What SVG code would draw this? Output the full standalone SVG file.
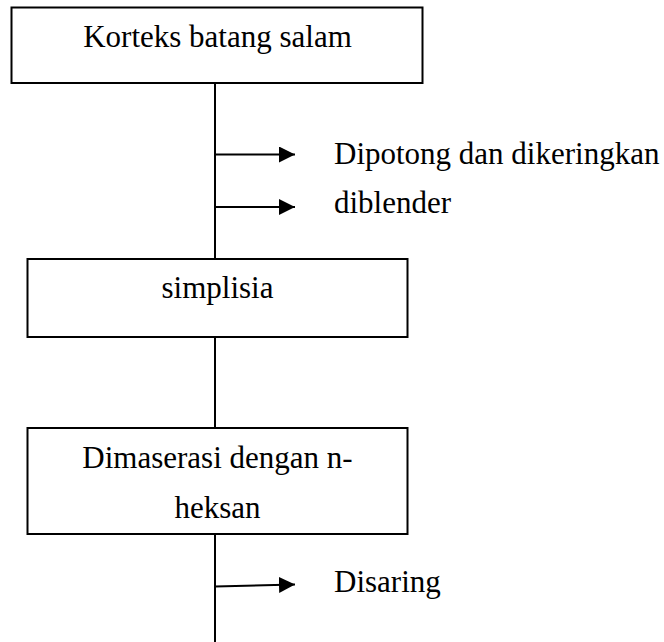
<svg xmlns="http://www.w3.org/2000/svg" width="664" height="642" viewBox="0 0 664 642">
<defs>
<style>
.box{fill:#fff;stroke:#000;stroke-width:2}
.ln{stroke:#000;stroke-width:2;fill:none}
.t{font-family:"Liberation Serif","Times New Roman",serif;font-size:31px;fill:#000}
.c{text-anchor:middle}
</style>
<marker id="ah" markerUnits="userSpaceOnUse" markerWidth="16" markerHeight="16" viewBox="0 0 16 16" refX="16" refY="8" orient="auto">
<path d="M0,0 L16,8 L0,16 Z" fill="#000"/>
</marker>
</defs>
<rect width="664" height="642" fill="#fff"/>
<g id="connectors">
<line class="ln" x1="215" y1="83" x2="215" y2="259"/>
<line class="ln" x1="215" y1="337" x2="215" y2="428"/>
<line class="ln" x1="215" y1="534" x2="215" y2="642"/>
<line class="ln" x1="215" y1="154.5" x2="295" y2="154.5" marker-end="url(#ah)"/>
<line class="ln" x1="215" y1="207" x2="295" y2="207" marker-end="url(#ah)"/>
<line class="ln" x1="215" y1="586.5" x2="295" y2="584.5" marker-end="url(#ah)"/>
</g>
<g id="node1">
<rect class="box" x="11.5" y="7.5" width="411" height="75.5"/>
<text class="t c" x="217.5" y="47">Korteks batang salam</text>
</g>
<g id="label1">
<text class="t" x="334" y="164">Dipotong dan dikeringkan</text>
</g>
<g id="label2">
<text class="t" x="334" y="213">diblender</text>
</g>
<g id="node2">
<rect class="box" x="27.5" y="259" width="380" height="78"/>
<text class="t c" x="217.5" y="298">simplisia</text>
</g>
<g id="node3">
<rect class="box" x="27.5" y="428" width="380" height="106"/>
<text class="t c" x="217.5" y="468">Dimaserasi dengan n-</text>
<text class="t c" x="217.5" y="518">heksan</text>
</g>
<g id="label3">
<text class="t" x="334" y="592">Disaring</text>
</g>
</svg>
